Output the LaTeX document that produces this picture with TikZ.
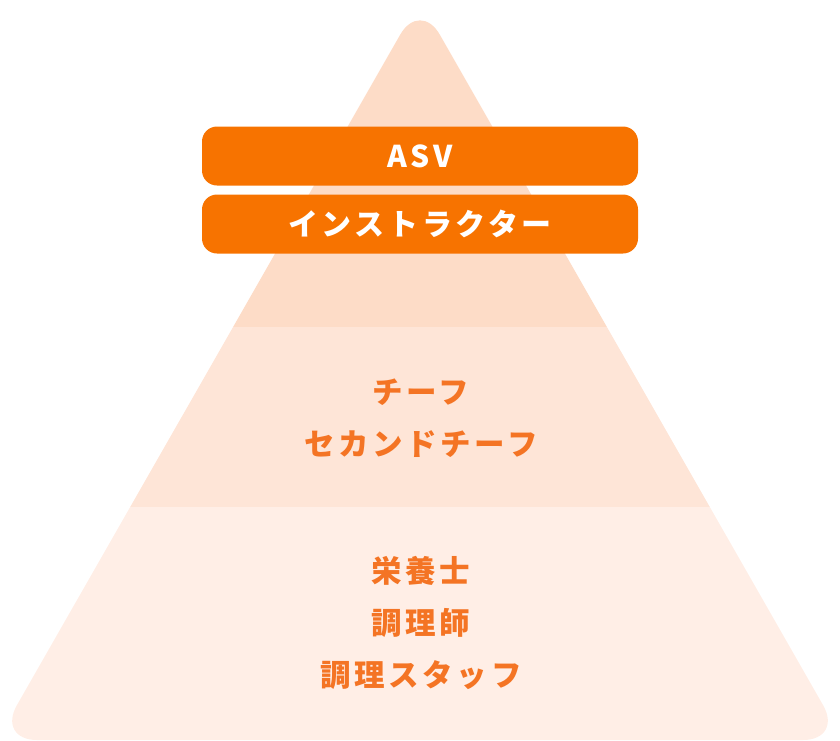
\documentclass[tikz,border=0pt]{standalone}
\usepackage{fontspec}
\newfontfamily\jp[LetterSpace=12]{Noto Sans CJK JP}
\definecolor{bandA}{HTML}{FDDCC7}
\definecolor{bandB}{HTML}{FEE5D7}
\definecolor{bandC}{HTML}{FFEEE6}
\definecolor{boxorange}{HTML}{F77300}
\definecolor{txtorange}{HTML}{F47424}
\tikzset{
  rolebox/.style={fill=boxorange, draw=none, rounded corners=15pt, minimum width=436pt, minimum height=59pt, inner sep=0pt, text=white, font=\jp\bfseries\fontsize{30}{34}\selectfont},
  bandtext/.style={text=txtorange, align=center, inner sep=0pt, font=\jp\bfseries\fontsize{30.5}{52}\selectfont}
}
\begin{document}
\begin{tikzpicture}[x=1pt,y=-1pt]
\useasboundingbox (0,0) rectangle (840,740);
\begin{scope}
  \clip[rounded corners=40pt] (420,0) -- (-3,740) -- (843,740) -- cycle;
  \fill[bandA] (0,-10) rectangle (840,327);
  \fill[bandB] (0,327) rectangle (840,507);
  \fill[bandC] (0,507) rectangle (840,760);
\end{scope}
\node[rolebox] (asv) at (420,156) {ASV};
\node[rolebox] (inst) at (420,224) {インストラクター};
\node[bandtext] (mid) at (421,418) {チーフ\\セカンドチーフ};
\node[bandtext] (low) at (421,623) {栄養士\\調理師\\調理スタッフ};
\end{tikzpicture}
\end{document}
